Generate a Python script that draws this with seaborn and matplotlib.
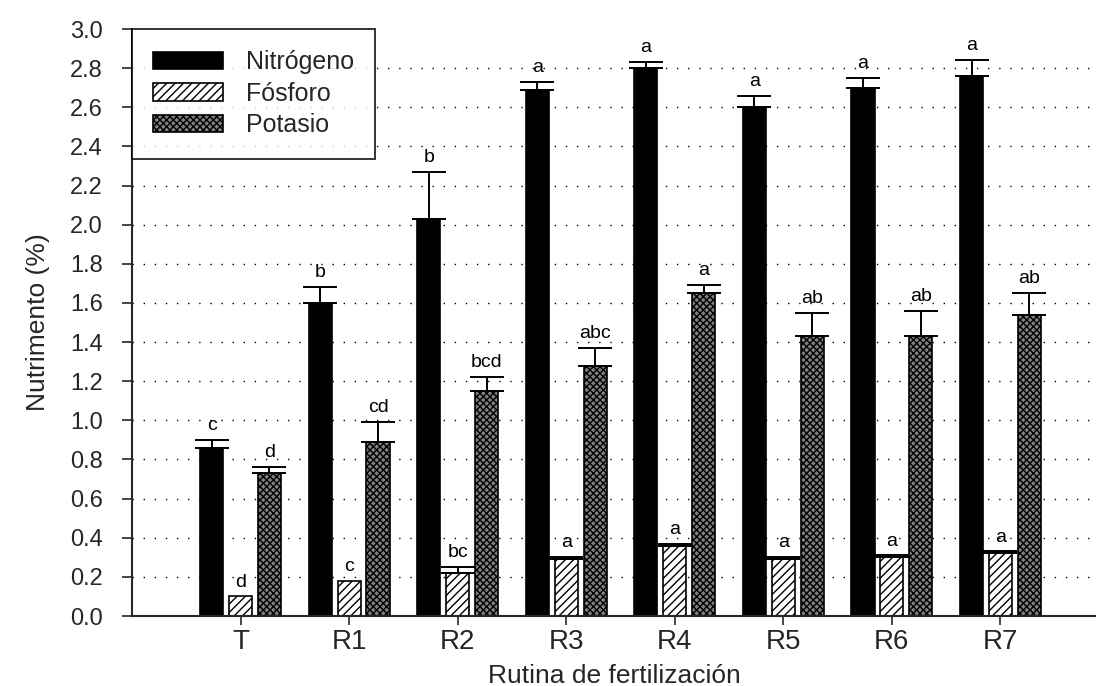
import numpy as np
import pandas as pd
import matplotlib
matplotlib.use("Agg")
import matplotlib.pyplot as plt
import seaborn as sns

categories = ["T", "R1", "R2", "R3", "R4", "R5", "R6", "R7"]
nutrients = ["Nitrógeno", "Fósforo", "Potasio"]
nitrogeno = [0.86, 1.60, 2.03, 2.69, 2.80, 2.60, 2.70, 2.76]
fosforo = [0.10, 0.18, 0.22, 0.29, 0.36, 0.29, 0.30, 0.32]
potasio = [0.73, 0.89, 1.15, 1.28, 1.65, 1.43, 1.43, 1.54]
err_n = [0.04, 0.08, 0.24, 0.04, 0.03, 0.06, 0.05, 0.08]
err_p = [0.00, 0.00, 0.03, 0.01, 0.01, 0.01, 0.01, 0.01]
err_k = [0.03, 0.10, 0.07, 0.09, 0.04, 0.12, 0.13, 0.11]
let_n = ["c", "b", "b", "a", "a", "a", "a", "a"]
let_p = ["d", "c", "bc", "a", "a", "a", "a", "a"]
let_k = ["d", "cd", "bcd", "abc", "a", "ab", "ab", "ab"]
yticks = [0.0, 0.2, 0.4, 0.6, 0.8, 1.0, 1.2, 1.4, 1.6, 1.8, 2.0, 2.2, 2.4, 2.6, 2.8, 3.0]

sns.set_style("white")
plt.rcParams["font.family"] = ["Liberation Sans", "DejaVu Sans"]
plt.rcParams["hatch.linewidth"] = 1.0

vals = [nitrogeno, fosforo, potasio]
errs = [err_n, err_p, err_k]
lets = [let_n, let_p, let_k]
rows = []
for nut, v in zip(nutrients, vals):
    for c, x in zip(categories, v):
        rows.append({"Rutina": c, "Nutriente": nut, "Valor": x})
df = pd.DataFrame(rows)

colors = {"Nitrógeno": "#000000", "Fósforo": "#ffffff", "Potasio": "#808080"}
hatches = {"Nitrógeno": "", "Fósforo": "////", "Potasio": "xxxxx"}

fig = plt.figure(figsize=(10.96, 6.86), dpi=100)
ax = fig.add_axes([0.1204, 0.102, 0.8796, 0.8557])

sns.barplot(data=df, x="Rutina", y="Valor", hue="Nutriente", order=categories,
            hue_order=nutrients, palette=colors, width=0.8, gap=0.2,
            edgecolor="black", linewidth=1.2, errorbar=None, ax=ax, legend=False)

handles = []
for hi, (nut, cont) in enumerate(zip(nutrients, ax.containers)):
    for bi, p in enumerate(cont.patches):
        p.set_hatch(hatches[nut])
        p.set_edgecolor("black")
        cx = p.get_x() + p.get_width() / 2
        h = p.get_height()
        e = errs[hi][bi]
        if e > 0:
            ax.errorbar(cx, h, yerr=[[0], [e]], fmt="none", ecolor="black",
                        elinewidth=1.4, capsize=12, capthick=1.4, zorder=5)
        ax.text(cx, h + e + 0.03, lets[hi][bi], ha="center", va="bottom",
                fontsize=14, color="black")
    handles.append(cont.patches[0])

leg = ax.legend(handles=handles, labels=nutrients, loc="upper left",
                bbox_to_anchor=(0.0, 1.0), borderaxespad=0.0, fontsize=18,
                frameon=True, fancybox=False, edgecolor="black",
                handlelength=2.8, handleheight=0.7, borderpad=0.85,
                labelspacing=0.3, handletextpad=0.9)
leg.get_frame().set_linewidth(1.4)
leg.set_zorder(10)

ax.set_xlim(-1.0, 7.88)
ax.set_ylim(0, 3.0)
ax.set_yticks(yticks)
ax.set_yticklabels([f"{t:.1f}" for t in yticks], fontsize=17)
ax.tick_params(axis="y", direction="out", length=7, width=1.2, left=True, pad=14)
ax.tick_params(axis="x", direction="out", length=6.5, width=1.2, bottom=True,
               labelsize=20, pad=3)
for t in yticks[1:-1]:
    ax.axhline(t, color="black", linestyle=(0, (1, 7)), linewidth=1.0, zorder=0)

ax.set_xlabel("Rutina de fertilización", fontsize=19, labelpad=6)
ax.set_ylabel("Nutrimento (%)", fontsize=19, labelpad=14)

for s in ["top", "right"]:
    ax.spines[s].set_visible(False)
ax.spines["left"].set_linewidth(1.5)
ax.spines["bottom"].set_linewidth(1.5)

fig.savefig("out.png", dpi=100)
